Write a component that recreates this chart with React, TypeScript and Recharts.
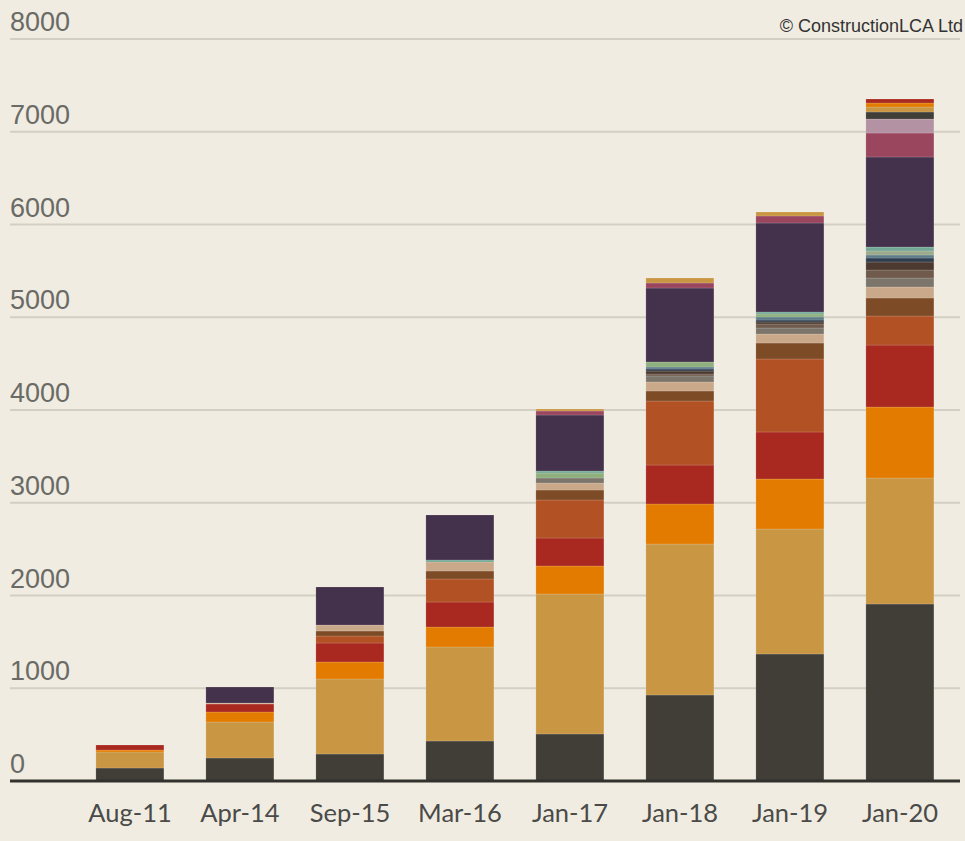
import React from 'react';
import { BarChart, Bar, XAxis, YAxis, CartesianGrid } from 'recharts';

const categories = ['Aug-11', 'Apr-14', 'Sep-15', 'Mar-16', 'Jan-17', 'Jan-18', 'Jan-19', 'Jan-20'];
const yTicks = [0, 1000, 2000, 3000, 4000, 5000, 6000, 7000, 8000];

// Segment sizes per series, one value per category (bottom of stack first)
const s01 = [140, 248, 291, 431, 507, 927, 1369, 1908];
const s02 = [173, 388, 809, 1014, 1509, 1628, 1348, 1359];
const s03 = [21, 108, 183, 215, 302, 432, 539, 765];
const s04 = [54, 86, 205, 270, 302, 420, 507, 668];
const s05 = [0, 0, 75, 248, 410, 690, 787, 313];
const s06 = [0, 0, 54, 86, 107, 108, 172, 195];
const s07 = [0, 10, 65, 97, 76, 97, 97, 118];
const s08 = [0, 0, 0, 0, 54, 65, 65, 97];
const s09 = [0, 0, 0, 0, 0, 21, 43, 86];
const s10 = [0, 0, 0, 0, 0, 32, 22, 87];
const s11 = [0, 0, 0, 0, 0, 22, 21, 43];
const s12 = [0, 0, 0, 0, 0, 22, 33, 32];
const s13 = [0, 0, 0, 0, 0, 0, 0, 43];
const s14 = [0, 0, 0, 0, 54, 54, 33, 0];
const s15 = [0, 0, 0, 22, 21, 0, 21, 43];
const s16 = [0, 173, 410, 485, 604, 797, 959, 971];
const s17 = [0, 0, 0, 0, 43, 54, 76, 258];
const s18 = [0, 0, 0, 0, 0, 0, 0, 151];
const s19 = [0, 0, 0, 0, 0, 0, 0, 76];
const s20 = [0, 0, 0, 0, 22, 54, 43, 54];
const s21 = [0, 0, 0, 0, 0, 0, 0, 43];
const s22 = [0, 0, 0, 0, 0, 0, 0, 43];

const seriesValues = [s01, s02, s03, s04, s05, s06, s07, s08, s09, s10, s11, s12, s13, s14, s15, s16, s17, s18, s19, s20, s21, s22];
const seriesColors = [
  '#413e38', '#c99743', '#e27b00', '#a9281f', '#b15124', '#7d4b26', '#caa98a', '#7c756c',
  '#6f5a4c', '#4c3a30', '#2f3e4f', '#5e7c89', '#9caa8c', '#8fb07e', '#72a895', '#44314b',
  '#9a465f', '#b393a3', '#413e38', '#c99743', '#e27b00', '#a9281f',
];

const data = categories.map((c, i) => {
  const row: Record<string, number | string> = { name: c };
  seriesValues.forEach((arr, k) => {
    row['s' + k] = arr[i];
  });
  return row;
});

const renderYTick = (props: any) => {
  const { y, payload } = props;
  return (
    <text x={10} y={y - 8} fill="#6a6a66" fontSize={27} fontFamily="'Liberation Sans Narrow', 'Liberation Sans', sans-serif" textAnchor="start">
      {payload.value}
    </text>
  );
};

const renderXTick = (props: any) => {
  const { x, y, payload } = props;
  return (
    <text x={x} y={y + 33} fill="#4a4a48" fontSize={25.5} fontFamily="Lato, sans-serif" textAnchor="middle">
      {payload.value}
    </text>
  );
};

export default function App() {
  return (
    <div style={{ position: 'absolute', left: 0, top: 0, width: 965, height: 841, background: '#f0ece1' }}>
      <BarChart
        width={965}
        height={841}
        data={data}
        margin={{ top: 39, right: 5, left: 0, bottom: 0 }}
        barCategoryGap="19%"
      >
        <CartesianGrid vertical={false} stroke="#d3cfc3" strokeWidth={2} />
        <YAxis
          width={10}
          domain={[0, 8000]}
          ticks={yTicks}
          axisLine={false}
          tickLine={false}
          tick={renderYTick}
          interval={0}
        />
        <XAxis
          dataKey="name"
          height={60}
          padding={{ left: 65, right: 5 }}
          axisLine={{ stroke: '#33312d', strokeWidth: 3 }}
          tickLine={false}
          tick={renderXTick}
          interval={0}
        />
        {seriesValues.map((_, k) => (
          <Bar
            key={k}
            dataKey={'s' + k}
            stackId="a"
            fill={seriesColors[k]}
            stroke="rgba(255,255,255,0.25)"
            strokeWidth={0.6}
            isAnimationActive={false}
          />
        ))}
      </BarChart>
      <div
        style={{
          position: 'absolute',
          right: 2,
          top: 16,
          fontFamily: "'Liberation Sans', Arial, sans-serif",
          fontSize: 18,
          color: '#333',
        }}
      >
        © ConstructionLCA Ltd
      </div>
    </div>
  );
}
